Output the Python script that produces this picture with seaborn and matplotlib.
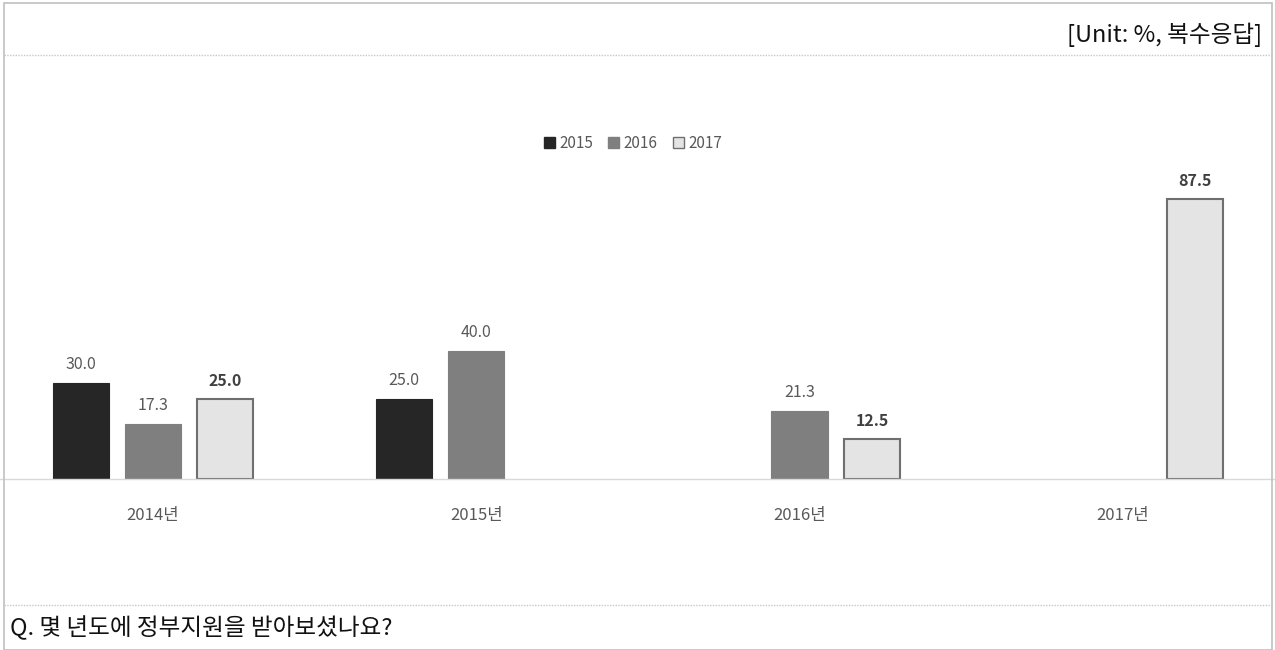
import numpy as np
import pandas as pd
import matplotlib
matplotlib.use("Agg")
import matplotlib.pyplot as plt
import seaborn as sns
from matplotlib.lines import Line2D
from matplotlib.patches import Rectangle

categories = ["2014년", "2015년", "2016년", "2017년"]
series = ["2015", "2016", "2017"]
v2015 = [30.0, 25.0, np.nan, np.nan]
v2016 = [17.3, 40.0, 21.3, np.nan]
v2017 = [25.0, np.nan, 12.5, 87.5]

colors = {"2015": "#262626", "2016": "#7f7f7f", "2017": "#e4e4e4"}
edges = {"2015": "#262626", "2016": "#7f7f7f", "2017": "#6f6f6f"}

rows = []
for s, vals in zip(series, [v2015, v2016, v2017]):
    for c, v in zip(categories, vals):
        rows.append({"cat": c, "series": s, "value": v})
df = pd.DataFrame(rows)

sns.set_theme(style="white")
plt.rcParams['font.family'] = ['Noto Sans CJK KR', 'DejaVu Sans']

fig = plt.figure(figsize=(12.75, 6.5), dpi=100)
ax = fig.add_axes([0, 171 / 650, 1, 320 / 650])

sns.barplot(data=df, x="cat", y="value", hue="series", order=categories,
            hue_order=series, palette=colors, width=0.67, gap=0.22,
            ax=ax, legend=False, linewidth=0)

for cont, s in zip(ax.containers, series):
    for bar in cont:
        if bar is None:
            continue
        bar.set_edgecolor(edges[s])
        bar.set_linewidth(1.5 if s == "2017" else 0.8)
        h = bar.get_height()
        if np.isnan(h):
            continue
        ax.annotate(f"{h:.1f}", (bar.get_x() + bar.get_width() / 2, h),
                    xytext=(0, 7), textcoords="offset points", ha="center", va="bottom",
                    fontsize=11.5, color="#404040" if s == "2017" else "#595959",
                    fontweight="bold" if s == "2017" else "normal")

ax.set_xlim(-0.473, 3.47)
ax.set_ylim(0, 100)
ax.set_yticks([])
ax.set_xlabel("")
ax.set_ylabel("")
for side in ["top", "left", "right"]:
    ax.spines[side].set_visible(False)
ax.spines["bottom"].set_color("#d9d9d9")
ax.spines["bottom"].set_linewidth(1)
ax.tick_params(axis="x", length=0, pad=20, labelsize=12, labelcolor="#595959")

handles = [Rectangle((0, 0), 1, 1, facecolor=colors[s], edgecolor=edges[s],
                     linewidth=1) for s in series]
fig.legend(handles, series, loc="center", bbox_to_anchor=(633 / 1275, 1 - 143 / 650),
           ncol=3, frameon=False, fontsize=11, labelcolor="#595959",
           handlelength=0.7, handleheight=0.7, handletextpad=0.3, columnspacing=1.0)

fig.text(1262 / 1275, 1 - 35 / 650, "[Unit: %, 복수응답]", ha="right", va="center",
         fontsize=17, color="#111111")
fig.text(10 / 1275, 1 - 628 / 650, "Q. 몇 년도에 정부지원을 받아보셨나요?", ha="left",
         va="center", fontsize=17, color="#111111")

# frame and dotted separators
fig.add_artist(Rectangle((4 / 1275, 0), 1268 / 1275, 1 - 3 / 650, transform=fig.transFigure,
                         fill=False, edgecolor="#c0c0c0", linewidth=1.2))
for yy in [55, 605]:
    fig.add_artist(Line2D([4 / 1275, 1272 / 1275], [1 - yy / 650] * 2, transform=fig.transFigure,
                          color="#c8c8c8", linewidth=1, linestyle=(0, (1, 1))))

fig.savefig("out.png", dpi=100)
